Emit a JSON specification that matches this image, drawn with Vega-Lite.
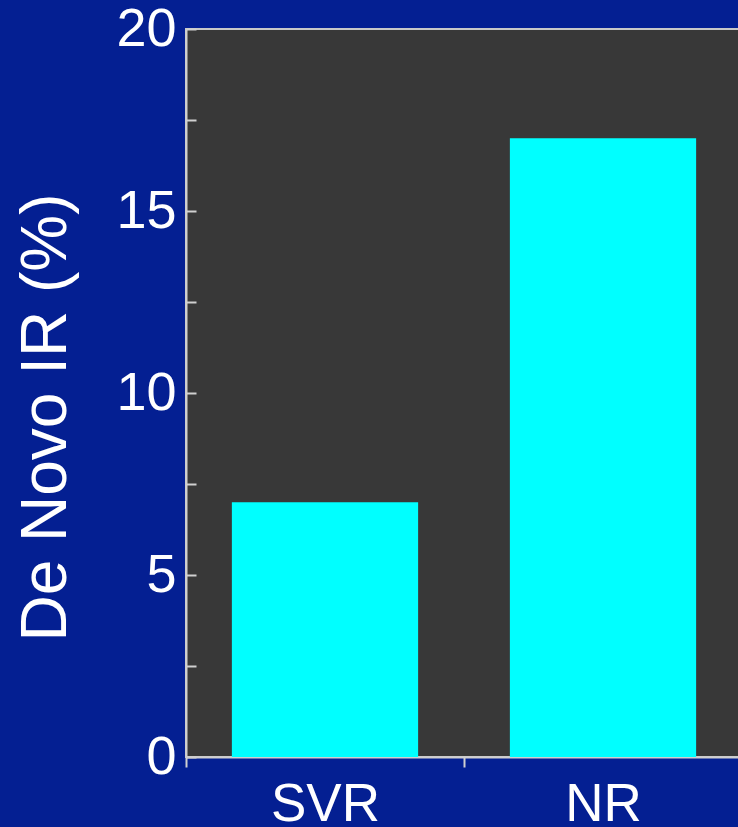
{
  "$schema": "https://vega.github.io/schema/vega-lite/v6.json",
  "autosize": {"type": "none"},
  "padding": {"left": 186, "top": 29, "right": 0, "bottom": 70},
  "width": 556,
  "height": 728,
  "background": "#041f92",
  "data": {"values": [{"group": "SVR", "rate": 7}, {"group": "NR", "rate": 17}]},
  "mark": {"type": "bar", "color": "#00ffff", "width": {"band": 0.67}},
  "encoding": {
    "x": {"field": "group", "type": "nominal", "sort": ["SVR", "NR"], "scale": {"paddingInner": 0, "paddingOuter": 0},
      "axis": {"title": null, "labelAngle": 0, "labelFont": "Liberation Sans", "labelFontSize": 53, "labelColor": "#ffffff", "labelPadding": 11, "domainColor": "#d0d0d0", "domainWidth": 2, "tickColor": "#d0d0d0", "tickWidth": 2, "tickSize": 10, "tickBand": "extent"}},
    "y": {"field": "rate", "type": "quantitative", "scale": {"domain": [0, 20]},
      "axis": {"title": "De Novo IR (%)", "titleFont": "Liberation Sans", "titleFontSize": 64, "titleFontWeight": "normal", "titleColor": "#ffffff", "titlePadding": 37, "titleY": 388, "values": [0, 2.5, 5, 7.5, 10, 12.5, 15, 17.5, 20], "labelExpr": "datum.value % 5 === 0 ? datum.label : ''", "labelOverlap": false, "grid": false, "labelFont": "Liberation Sans", "labelFontSize": 54, "labelColor": "#ffffff", "labelPadding": 20, "tickSize": -10, "tickColor": "#d0d0d0", "tickWidth": 2, "domainColor": "#d0d0d0", "domainWidth": 2}}
  },
  "config": {"view": {"fill": "#383838", "stroke": "#c8c8c8", "strokeWidth": 2}}
}
